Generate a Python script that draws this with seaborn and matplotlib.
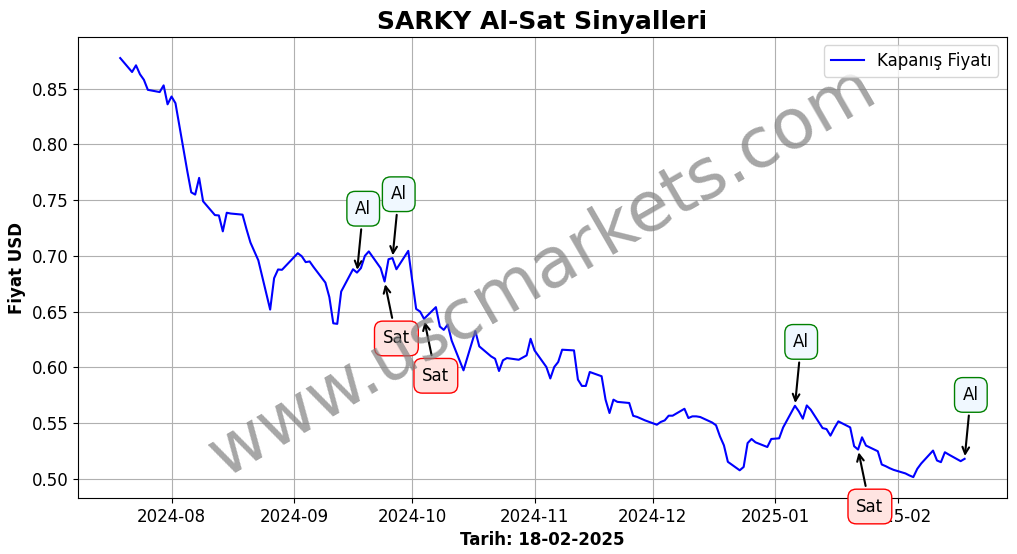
import pandas as pd
import matplotlib
matplotlib.use("Agg")
import matplotlib.pyplot as plt
import seaborn as sns

# closing prices, business days (Borsa Istanbul holidays skipped)
holidays = ["2024-08-30", "2024-10-29", "2025-01-01"]
dates = pd.bdate_range("2024-07-19", "2025-02-18", freq="C", holidays=holidays)

jul = [0.8775, 0.865, 0.871, 0.863, 0.858, 0.849, 0.847, 0.853, 0.836]
aug = [0.843, 0.837, 0.776, 0.757, 0.755, 0.770, 0.749, 0.7366, 0.7363, 0.722,
       0.7387, 0.738, 0.737, 0.724, 0.712, 0.704, 0.696, 0.6518, 0.680, 0.6878,
       0.6875]
sep = [0.7024, 0.6997, 0.6944, 0.695, 0.690, 0.676, 0.663, 0.6395, 0.639, 0.668,
       0.688, 0.685, 0.689, 0.700, 0.704, 0.689, 0.677, 0.697, 0.698, 0.688,
       0.7045]
oct_ = [0.678, 0.6524, 0.650, 0.6435, 0.654, 0.6366, 0.6336, 0.6384, 0.624, 0.5973,
        0.609, 0.621, 0.6325, 0.6188, 0.6098, 0.6077, 0.5967, 0.6063, 0.6083, 0.6068,
        0.6107, 0.6256]
nov = [0.6152, 0.6003, 0.590, 0.6003, 0.6048, 0.6158, 0.6152, 0.589, 0.5833, 0.5833,
       0.5958, 0.592, 0.571, 0.559, 0.571, 0.569, 0.568, 0.5565, 0.5555, 0.554,
       0.5524]
dec = [0.5485, 0.551, 0.5524, 0.5566, 0.5566, 0.5628, 0.5545, 0.556, 0.556, 0.5554,
       0.5505, 0.548, 0.538, 0.530, 0.5152, 0.5076, 0.5106, 0.532, 0.5357, 0.5327,
       0.5285, 0.5357]
jan = [0.5363, 0.546, 0.5655, 0.5604, 0.5539, 0.5658, 0.562, 0.5455, 0.5446, 0.5387,
       0.5455, 0.5515, 0.5461, 0.5292, 0.5262, 0.5372, 0.5298, 0.5247, 0.5128, 0.5113,
       0.5095, 0.508]
feb = [0.5048, 0.503, 0.5015, 0.5089, 0.5137, 0.5253, 0.5164, 0.5149, 0.5238, 0.5217,
       0.5158, 0.5179]
prices = jul + aug + sep + oct_ + nov + dec + jan + feb

buy_dates = ["2024-09-17", "2024-09-26", "2025-01-06", "2025-02-18"]
sell_dates = ["2024-09-24", "2024-10-04", "2025-01-22"]

df = pd.DataFrame({"Tarih": dates, "Fiyat": prices})
price_at = df.set_index("Tarih")["Fiyat"]

fig, ax = plt.subplots(figsize=(10.17, 5.54), dpi=100)
fig.subplots_adjust(left=0.0767, right=0.990, top=0.933, bottom=0.101)

sns.lineplot(data=df, x="Tarih", y="Fiyat", color="blue", linewidth=1.5,
             label="Kapanış Fiyatı", ax=ax)

for d in buy_dates:
    d = pd.Timestamp(d)
    ax.annotate("Al", xy=(d, price_at[d]), xytext=(4.5, 46), textcoords="offset points",
                ha="center", va="center", fontsize=12,
                bbox=dict(boxstyle="round,pad=0.5", fc="aliceblue", ec="green"),
                arrowprops=dict(arrowstyle="->", color="black", lw=1.5))

for d in sell_dates:
    d = pd.Timestamp(d)
    ax.annotate("Sat", xy=(d, price_at[d]), xytext=(8.5, -41), textcoords="offset points",
                ha="center", va="center", fontsize=12,
                bbox=dict(boxstyle="round,pad=0.5", fc="mistyrose", ec="red"),
                arrowprops=dict(arrowstyle="->", color="black", lw=1.5))

ax.text(0.5, 0.49, "www.uscmarkets.com", transform=ax.transAxes, fontsize=50,
        color="gray", alpha=0.7, rotation=30, ha="center", va="center")

ax.set_title("SARKY Al-Sat Sinyalleri", fontsize=18, fontweight="bold")
ax.set_xlabel("Tarih: 18-02-2025", fontsize=12, fontweight="bold")
ax.set_ylabel("Fiyat USD", fontsize=12, fontweight="bold")
ax.tick_params(labelsize=12)
ax.grid(True)
ax.legend(loc="upper right", fontsize=12)

plt.savefig("out.png", dpi=100)
